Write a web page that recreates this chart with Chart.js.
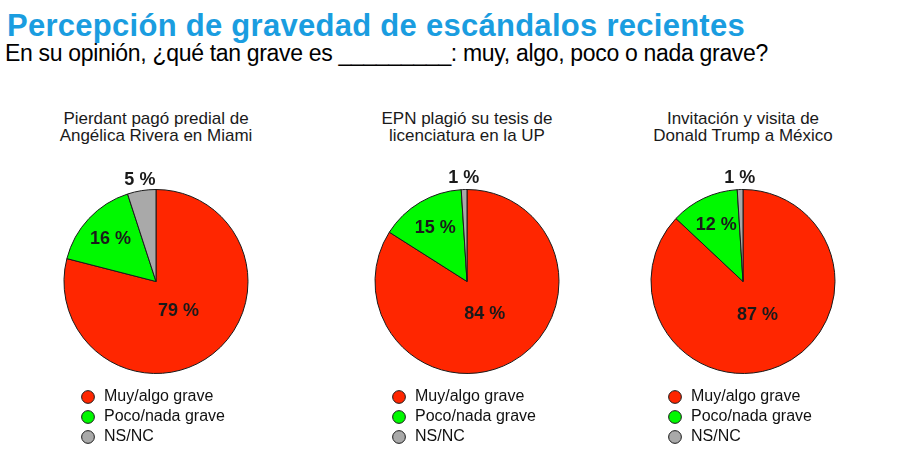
<!DOCTYPE html>
<html>
<head>
<meta charset="utf-8">
<script src="https://cdn.jsdelivr.net/npm/chart.js@4.4.0/dist/chart.umd.min.js"></script>
<style>
  body { margin: 0; background: #fff; width: 900px; height: 472px; overflow: hidden; position: relative; font-family: "Liberation Sans", Arial, Helvetica, sans-serif; }
  #title { position: absolute; left: 7px; top: 8px; font-size: 31px; font-weight: bold; color: #1a9de0; white-space: nowrap; line-height: 36px; }
  #subtitle { position: absolute; left: 5px; top: 39px; font-size: 23px; color: #000; white-space: nowrap; line-height: 28px; }
  .pie { position: absolute; top: 105px; width: 200px; height: 350px; }
  .topic { position: absolute; top: 110px; width: 260px; text-align: center; font-size: 17px; line-height: 17px; color: #1a1a1a; }
</style>
</head>
<body>
<div id="title">Percepción de gravedad de escándalos recientes</div>
<div id="subtitle">En su opinión, ¿qué tan grave es _________: muy, algo, poco o nada grave?</div>
<div class="topic" id="t0" style="left:26px"></div>
<div class="topic" id="t1" style="left:337px"></div>
<div class="topic" id="t2" style="left:613px"></div>
<div class="pie" style="left:56px"><canvas id="c0"></canvas></div>
<div class="pie" style="left:367px"><canvas id="c1"></canvas></div>
<div class="pie" style="left:643px"><canvas id="c2"></canvas></div>
<script>
// answer categories and the three topics asked about
var categories = ['Muy/algo grave', 'Poco/nada grave', 'NS/NC'];
var topics = [
    ['Pierdant pagó predial de', 'Angélica Rivera en Miami'],
    ['EPN plagió su tesis de', 'licenciatura en la UP'],
    ['Invitación y visita de', 'Donald Trump a México']
];
// percentages per topic
var muyAlgoGrave = [79, 84, 87];
var pocoNadaGrave = [16, 15, 12];
var nsNc = [5, 1, 1];

var sliceColors = ['#ff2600', '#00f900', '#a9a9a9'];

// stretch the header lines to the width they have in the original
function fitWidth(el, target) {
    var w = el.getBoundingClientRect().width;
    var n = el.textContent.length;
    el.style.letterSpacing = ((target - w) / n) + 'px';
}
fitWidth(document.getElementById('title'), 738);
fitWidth(document.getElementById('subtitle'), 763);

// percent labels: inside for the big slices, above the pie for the small one
var pctLabels = {
    id: 'pctLabels',
    afterDatasetsDraw: function (chart) {
        var ctx = chart.ctx;
        var meta = chart.getDatasetMeta(0);
        var values = chart.data.datasets[0].data;
        var factors = [0.4, 0.68, 1.12];
        ctx.save();
        ctx.font = 'bold 18px "Liberation Sans", Arial, sans-serif';
        ctx.fillStyle = '#1a1a1a';
        ctx.textAlign = 'center';
        ctx.textBaseline = 'middle';
        meta.data.forEach(function (arc, i) {
            var p = arc.getProps(['x', 'y', 'startAngle', 'endAngle', 'outerRadius'], true);
            var mid = (p.startAngle + p.endAngle) / 2;
            var r = p.outerRadius * factors[i];
            ctx.fillText(values[i] + ' %', p.x + Math.cos(mid) * r, p.y + Math.sin(mid) * r);
        });
        ctx.restore();
    }
};

renderPie = function (ctx, values) {
    return new Chart(ctx, {
        type: 'pie',
        data: {
            labels: categories,
            datasets: [{
                data: values,
                backgroundColor: sliceColors,
                borderColor: '#1a1a1a',
                borderWidth: 1,
                radius: 92,
                hoverOffset: 0,
                clip: false
            }]
        },
        options: {
            responsive: true,
            maintainAspectRatio: false,
            animation: false,
            layout: { padding: { left: 20, right: 20, top: 73, bottom: 0 } },
            plugins: {
                legend: {
                    display: true,
                    position: 'bottom',
                    align: 'start',
                    labels: {
                        color: '#111',
                        usePointStyle: true,
                        pointStyle: 'circle',
                        boxHeight: 9,
                        padding: 4,
                        font: { family: '"Liberation Sans", Arial, sans-serif', size: 16 }
                    }
                },
                tooltip: { enabled: false }
            }
        },
        plugins: [pctLabels]
    });
};

for (var i = 0; i < topics.length; i++) {
    document.getElementById('t' + i).innerHTML = topics[i].join('<br>');
    renderPie(document.getElementById('c' + i), [muyAlgoGrave[i], pocoNadaGrave[i], nsNc[i]]);
}
</script>
</body>
</html>
